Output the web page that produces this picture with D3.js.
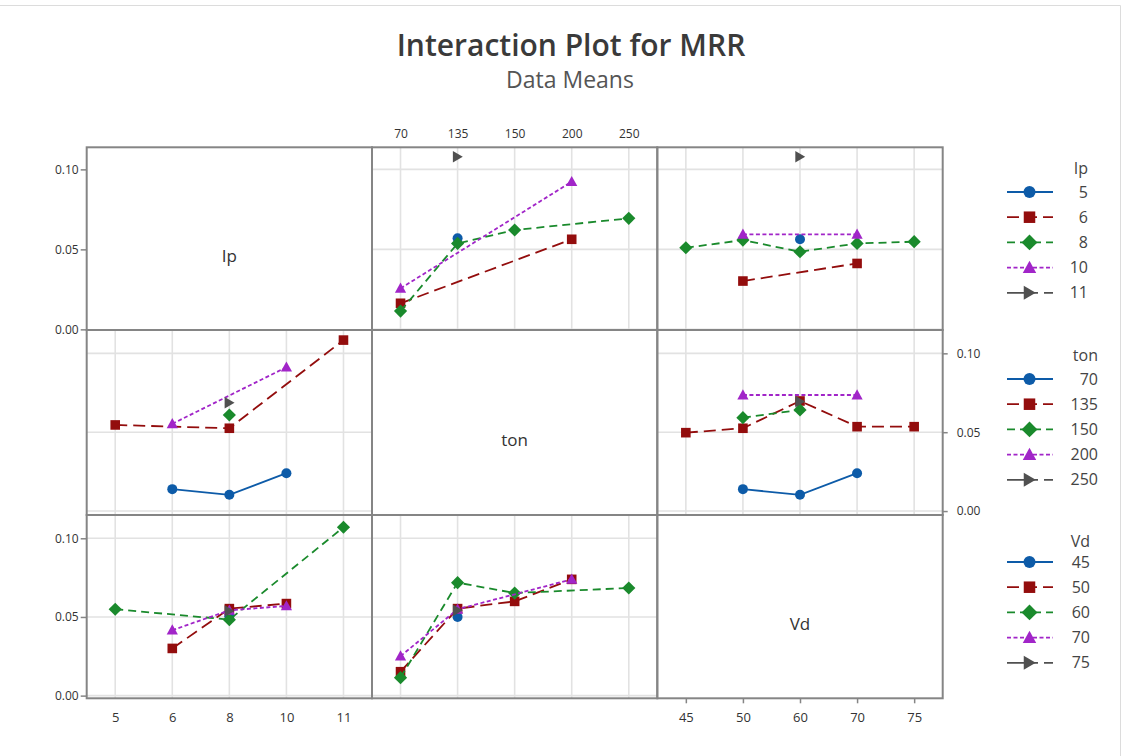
<!DOCTYPE html>
<html><head><meta charset="utf-8">
<script src="https://cdn.jsdelivr.net/npm/d3@7"></script>
<style>
body{margin:0;background:#fff}
svg{display:block}
text{font-family:"Open Sans","Noto Sans",sans-serif}
</style>
</head><body>
<svg id="c" width="1127" height="756"></svg>
<script>
// ---------- data ----------
const factorNames = ["Ip", "ton", "Vd"];
const ipLevels  = ["5", "6", "8", "10", "11"];
const tonLevels = ["70", "135", "150", "200", "250"];
const vdLevels  = ["45", "50", "60", "70", "75"];
const yTicks = [0, 0.05, 0.10];

// means: rows = series level, columns = x level (null = no run)
const ipVsTon = [
  [null, 0.0569, null, null, null],
  [0.0163, null, null, 0.0563, null],
  [0.0114, 0.0537, 0.0621, null, 0.0694],
  [0.0256, null, null, 0.0923, null],
  [null, 0.1079, null, null, null]
];
const ipVsVd = [
  [null, null, 0.0563, null, null],
  [null, 0.0302, null, 0.0412, null],
  [0.0510, 0.0558, 0.0485, 0.0537, 0.0548],
  [null, 0.0594, null, 0.0594, null],
  [null, null, 0.1079, null, null]
];
const tonVsIp = [
  [null, 0.0139, 0.0103, 0.0240, null],
  [0.0546, null, 0.0525, null, 0.1084],
  [null, null, 0.0609, null, null],
  [null, 0.0553, null, 0.0912, null],
  [null, null, 0.0687, null, null]
];
const tonVsVd = [
  [null, 0.0139, 0.0103, 0.0240, null],
  [0.0497, 0.0525, 0.0698, 0.0535, 0.0535],
  [null, 0.0592, 0.0641, null, null],
  [null, 0.0736, null, 0.0736, null],
  [null, null, 0.0694, null, null]
];
const vdVsIp = [
  [null, null, 0.0505, null, null],
  [null, 0.0300, 0.0553, 0.0585, null],
  [0.0549, null, 0.0483, null, 0.1070],
  [null, 0.0416, 0.0542, 0.0570, null],
  [null, null, 0.0538, null, null]
];
const vdVsTon = [
  [null, 0.0500, null, null, null],
  [0.0152, 0.0553, 0.0599, 0.0739, null],
  [0.0114, 0.0718, 0.0652, null, 0.0684],
  [0.0251, 0.0549, null, 0.0739, null],
  [null, 0.0542, null, null, null]
];

// ---------- layout / style ----------
const svg = d3.select("#c");
const colX = [86.7, 372, 657.3, 942.7];
const rowY = [147.3, 330, 515, 698.3];
const yDomains = [[-0.0004, 0.1138], [-0.0025, 0.1148], [-0.0017, 0.1148]];
const levels = [ipLevels, tonLevels, vdLevels];
const panelData = {"0-1": ipVsTon, "0-2": ipVsVd, "1-0": tonVsIp, "1-2": tonVsVd, "2-0": vdVsIp, "2-1": vdVsTon};

const colors = ["#0d5ba8", "#930d0d", "#1a8a2c", "#a125c8", "#505050"];
const dashes = [null, "12,6", "8,5", "4,2.5", "20,6,5,6"];
const shapes = ["circle", "square", "diamond", "triangle", "right"];

function shapePath(type, s) {
  switch (type) {
    case "circle": { const r = 5 * s; return `M${r},0A${r},${r} 0 1,1 ${-r},0A${r},${r} 0 1,1 ${r},0Z`; }
    case "square": { const h = 4.8 * s; return `M${-h},${-h}H${h}V${h}H${-h}Z`; }
    case "diamond": { const h = 6.6 * s; return `M0,${-h}L${h},0L0,${h}L${-h},0Z`; }
    case "triangle": { const w = 5.6 * s, t = 5.8 * s, b = 4.4 * s; return `M0,${-t}L${w},${b}L${-w},${b}Z`; }
    case "right": { const w = 5.2 * s, h = 5.8 * s; return `M${w},0L${-w + 0.5},${-h}L${-w + 0.5},${h}Z`; }
  }
}

const xScales = levels.map((lv, c) => d3.scalePoint().domain(lv).range([colX[c], colX[c + 1]]).padding(0.5));
const yScales = yDomains.map((d, r) => d3.scaleLinear().domain(d).range([rowY[r + 1], rowY[r]]));

// outer frame (screenshot edge)
svg.append("path").attr("d", "M0,5.5H1120.5V756").attr("fill", "none").attr("stroke", "#dcdcdc").attr("stroke-width", 1);

// ---------- title ----------
svg.append("text").attr("x", 571).attr("y", 56).attr("text-anchor", "middle")
  .attr("font-size", 30).attr("font-weight", 600).attr("fill", "#3a3a3a").text("Interaction Plot for MRR");
svg.append("text").attr("x", 570).attr("y", 88).attr("text-anchor", "middle")
  .attr("font-size", 23).attr("fill", "#555").text("Data Means");

// ---------- panels ----------
const gridColor = "#e2e2e2";
for (let r = 0; r < 3; r++) {
  for (let c = 0; c < 3; c++) {
    const g = svg.append("g");
    const x = xScales[c], y = yScales[r];
    if (r === c) {
      g.append("text").attr("x", (colX[c] + colX[c + 1]) / 2).attr("y", (rowY[r] + rowY[r + 1]) / 2 + 23)
        .attr("text-anchor", "middle").attr("font-size", 17).attr("fill", "#333").text(factorNames[r]);
      continue;
    }
    // grid
    g.selectAll(".vg").data(levels[c]).join("line")
      .attr("x1", d => x(d)).attr("x2", d => x(d)).attr("y1", rowY[r]).attr("y2", rowY[r + 1])
      .attr("stroke", gridColor).attr("stroke-width", 1.6);
    g.selectAll(".hg").data(yTicks).join("line")
      .attr("x1", colX[c]).attr("x2", colX[c + 1]).attr("y1", d => y(d)).attr("y2", d => y(d))
      .attr("stroke", gridColor).attr("stroke-width", 1.6);
    // series
    const data = panelData[r + "-" + c];
    data.forEach((vals, si) => {
      const pts = vals.map((v, i) => ({x: levels[c][i], v})).filter(p => p.v !== null);
      const line = d3.line().x(p => x(p.x)).y(p => y(p.v));
      if (pts.length > 1) {
        g.append("path").attr("d", line(pts)).attr("fill", "none")
          .attr("stroke", colors[si]).attr("stroke-width", 1.8)
          .attr("stroke-dasharray", dashes[si]);
      }
      g.selectAll(null).data(pts).join("path")
        .attr("transform", p => `translate(${x(p.x)},${y(p.v)})`)
        .attr("d", shapePath(shapes[si], 1)).attr("fill", colors[si]);
    });
  }
}

// panel borders
for (let r = 0; r < 3; r++) for (let c = 0; c < 3; c++) {
  svg.append("rect").attr("x", colX[c]).attr("y", rowY[r])
    .attr("width", colX[c + 1] - colX[c]).attr("height", rowY[r + 1] - rowY[r])
    .attr("fill", "none").attr("stroke", "#858585").attr("stroke-width", 2);
}

// ---------- axes ----------
function styleAxis(g, fs) {
  g.select(".domain").remove();
  g.selectAll(".tick line").attr("stroke", "#858585").attr("stroke-width", 1.5);
  g.selectAll(".tick text").attr("font-size", fs).attr("fill", "#333")
    .attr("font-family", '"Open Sans","Noto Sans",sans-serif');
}
[0, 2].forEach(r => {
  const g = svg.append("g").attr("transform", `translate(${colX[0]},0)`)
    .call(d3.axisLeft(yScales[r]).tickValues(yTicks).tickFormat(d3.format(".2f")).tickSize(6).tickPadding(2));
  styleAxis(g, 12);
});
{
  const g = svg.append("g").attr("transform", `translate(${colX[3]},0)`)
    .call(d3.axisRight(yScales[1]).tickValues(yTicks).tickFormat(d3.format(".2f")).tickSize(5).tickPadding(9));
  styleAxis(g, 12);
}
{ // top axis (ton)
  const g = svg.append("g").attr("transform", `translate(0,${rowY[0]})`)
    .call(d3.axisTop(xScales[1]).tickSize(0).tickPadding(9));
  styleAxis(g, 12);
}
{ // bottom axis Ip
  const g = svg.append("g").attr("transform", `translate(0,${rowY[3]})`)
    .call(d3.axisBottom(xScales[0]).tickSize(0).tickPadding(14));
  styleAxis(g, 13);
}
{ // bottom axis Vd
  const g = svg.append("g").attr("transform", `translate(0,${rowY[3]})`)
    .call(d3.axisBottom(xScales[2]).tickSize(5).tickPadding(9));
  styleAxis(g, 13);
}

// ---------- legends ----------
const legendTitleY = [168, 355, 541];
const legendFirstY = [192, 379, 562];
const legendTextX = [1088, 1098, 1090];
const legendStep = 25.2;
levels.forEach((lv, f) => {
  const g = svg.append("g");
  g.append("text").attr("x", legendTextX[f]).attr("y", legendTitleY[f]).attr("dy", "0.35em")
    .attr("text-anchor", "end").attr("font-size", 16).attr("fill", "#444").text(factorNames[f]);
  lv.forEach((name, i) => {
    const yy = legendFirstY[f] + i * legendStep;
    g.append("line").attr("x1", 1007).attr("x2", 1053).attr("y1", yy).attr("y2", yy)
      .attr("stroke", colors[i]).attr("stroke-width", 1.8).attr("stroke-dasharray", dashes[i]);
    g.append("path").attr("transform", `translate(1029.5,${yy})`).attr("d", shapePath(shapes[i], 1.2)).attr("fill", colors[i]);
    g.append("text").attr("x", legendTextX[f]).attr("y", yy).attr("dy", "0.35em")
      .attr("text-anchor", "end").attr("font-size", 16).attr("fill", "#444").text(name);
  });
});
</script>
</body></html>
